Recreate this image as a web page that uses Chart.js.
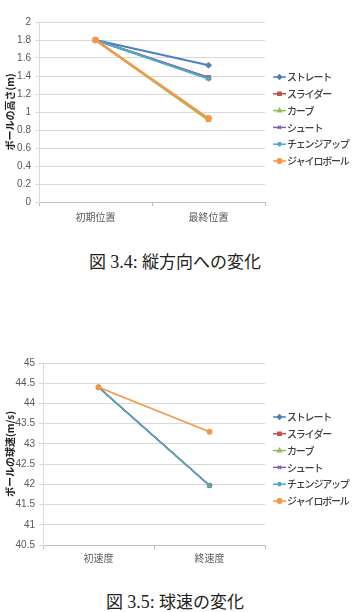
<!DOCTYPE html>
<html>
<head>
<meta charset="utf-8">
<script src="https://cdn.jsdelivr.net/npm/chart.js@4"></script>
<style>
  body { margin: 0; background: #fff; width: 358px; height: 612px; position: relative; overflow: hidden; }
  canvas { position: absolute; left: 0; }
  #c1 { top: 0; }
  #c2 { top: 300px; }
  .caption { position: absolute; left: 0; width: 350px; text-align: center; font-family: 'Liberation Serif', 'DejaVu Serif', 'Noto Sans CJK JP', serif; font-size: 17px; line-height: 20px; color: #222; }
  .caption .num { font-family: 'Liberation Serif', 'DejaVu Serif', serif; font-size: 18px; }
</style>
</head>
<body>
<canvas id="c1" width="358" height="230"></canvas>
<div class="caption" style="top:252px">図 <span class="num">3.4:</span> 縦方向への変化</div>
<canvas id="c2" width="358" height="270"></canvas>
<div class="caption" style="top:592px">図 <span class="num">3.5:</span> 球速の変化</div>
<script>
// series names and styles (Excel 2007 palette)
const pitchNames = ['ストレート', 'スライダー', 'カーブ', 'シュート', 'チェンジアップ', 'ジャイロボール'];
const pitchColors = ['#4F81BD', '#C0504D', '#9BBB59', '#8064A2', '#4BACC6', '#F79646'];
const pitchMarkers = ['rectRot', 'rect', 'triangle', 'crossRot', 'star', 'circle'];

// Fig 3.4 - height of the ball
const heightLabels = ['初期位置', '最終位置'];
const heightStart = [1.8, 1.8, 1.8, 1.8, 1.8, 1.8];
const heightEnd = [1.52, 1.38, 0.91, 1.38, 1.37, 0.93];

// Fig 3.5 - ball speed
const speedLabels = ['初速度', '終速度'];
const speedStart = [44.4, 44.4, 44.4, 44.4, 44.4, 44.4];
const speedEnd = [41.97, 41.97, 41.97, 41.97, 41.97, 43.3];

const tickFont = { family: "'Liberation Sans', 'Noto Sans CJK JP', sans-serif", size: 10 };
const catFont = { family: "'Noto Sans CJK JP', sans-serif", size: 10 };

// legend drawn at the right, line + marker like Excel
const sideLegend = {
    id: 'sideLegend',
    afterDraw(chart, args, opts) {
        const ctx = chart.ctx;
        ctx.save();
        chart.data.datasets.forEach((ds, i) => {
            const y = opts.top + i * opts.gap;
            ctx.strokeStyle = ds.borderColor;
            ctx.fillStyle = ds.borderColor;
            ctx.lineWidth = 1.5;
            ctx.beginPath();
            ctx.moveTo(opts.x, y);
            ctx.lineTo(opts.x + 13, y);
            ctx.stroke();
            Chart.helpers.drawPoint(ctx, { pointStyle: ds.pointStyle, radius: 2.2, borderWidth: 1, rotation: 0 }, opts.x + 6.5, y);
            ctx.fillStyle = '#404040';
            ctx.font = "500 10px 'Noto Sans CJK JP', sans-serif";
            ctx.letterSpacing = '-1.2px';
            ctx.textBaseline = 'middle';
            ctx.fillText(ds.label, opts.x + 14, y + 0.5);
            ctx.letterSpacing = '0px';
        });
        ctx.restore();
    }
};

function makeDatasets(start, end, width, radius) {
    return pitchNames.map((name, i) => ({
        label: name,
        data: [start[i], end[i]],
        borderColor: pitchColors[i],
        backgroundColor: pitchColors[i],
        pointStyle: pitchMarkers[i],
        pointRadius: radius,
        pointBorderWidth: 1,
        borderWidth: width,
        order: pitchNames.length - i,
        tension: 0
    }));
}

function makeOptions(cfg) {
    return {
        responsive: false,
        animation: false,
        layout: { padding: { left: 0, right: 93, top: cfg.top, bottom: 0 } },
        plugins: {
            legend: { display: false },
            tooltip: { enabled: false },
            sideLegend: { x: 273, top: cfg.legendTop, gap: 16.8 }
        },
        scales: {
            x: {
                offset: true,
                afterFit: s => { s.height = cfg.xHeight; },
                grid: { offset: true, drawOnChartArea: false, tickLength: 4, color: '#bfbfbf' },
                border: { color: '#bfbfbf' },
                ticks: { padding: cfg.xPad, color: '#595959', font: catFont }
            },
            y: {
                min: cfg.min,
                max: cfg.max,
                afterFit: s => { s.width = cfg.left; },
                ticks: {
                    stepSize: cfg.step,
                    padding: 4,
                    color: '#595959',
                    font: tickFont,
                    // Excel style: "2", "1.8", "44.5"
                    callback: v => String(Math.round(v * 10) / 10)
                },
                grid: { color: '#d9d9d9', tickLength: 4 },
                border: { color: '#d9d9d9' },
                title: {
                    display: true,
                    text: cfg.title,
                    color: '#222',
                    padding: { top: 4, bottom: 0 },
                    font: { family: "'Noto Sans CJK JP', sans-serif", size: 10, weight: 'bold' }
                }
            }
        }
    };
}

new Chart(document.getElementById('c1'), {
    type: 'line',
    data: { labels: heightLabels, datasets: makeDatasets(heightStart, heightEnd, 2.2, 3) },
    options: makeOptions({ top: 22, left: 39, xHeight: 28, xPad: 5, min: 0, max: 2, step: 0.2, title: 'ボールの高さ(m)', legendTop: 77 }),
    plugins: [sideLegend]
});

new Chart(document.getElementById('c2'), {
    type: 'line',
    data: { labels: speedLabels, datasets: makeDatasets(speedStart, speedEnd, 1.5, 2.6) },
    options: makeOptions({ top: 63, left: 43, xHeight: 25, xPad: 3, min: 40.5, max: 45, step: 0.5, title: 'ボールの球速(m/s)', legendTop: 117 }),
    plugins: [sideLegend]
});
</script>
</body>
</html>
